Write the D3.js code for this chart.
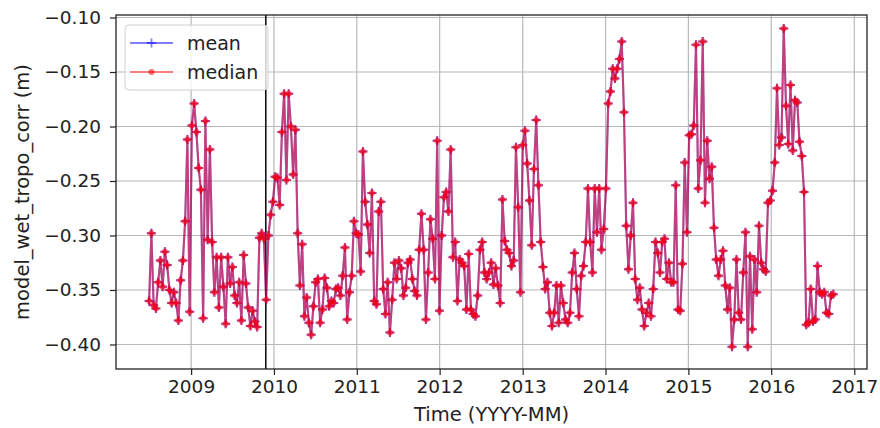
<!DOCTYPE html>
<html>
<head>
<meta charset="utf-8">
<script src="https://cdn.jsdelivr.net/npm/d3@7"></script>
<style>
  body { margin: 0; background: #fff; }
  svg text { font-family: "DejaVu Sans", sans-serif; fill: #222; }
</style>
</head>
<body>
<svg id="chart" width="880" height="428"></svg>
<script>
"use strict";

// one value per repeat cycle (~9.9 days), starting at the first cycle date
const firstCycle = new Date(2008, 5, 30);
const cycleDays = 9.9156;
const markerDate = new Date(2009, 10, 26);

// mean and median are on top of each other at this scale
const medianVals = [
  // 2008.5 - 2009.9
  -0.360, -0.298, -0.364, -0.367, -0.343, -0.323, -0.347, -0.315, -0.327, -0.350,
  -0.362, -0.352, -0.362, -0.378, -0.341, -0.323, -0.287, -0.212, -0.370, -0.199,
  -0.179, -0.205, -0.238, -0.258, -0.376, -0.195, -0.304, -0.221, -0.306, -0.352,
  -0.320, -0.366, -0.320, -0.347, -0.381, -0.320, -0.344, -0.329, -0.355, -0.362,
  -0.343, -0.378, -0.318, -0.344, -0.366, -0.383, -0.369, -0.379, -0.384, -0.302,
  -0.298, -0.303, -0.359,
  // 2009.9 - 2011.5
  -0.300, -0.281, -0.269, -0.246, -0.247, -0.272, -0.205, -0.170, -0.249, -0.170,
  -0.200, -0.244, -0.203, -0.298, -0.346, -0.308, -0.374, -0.357, -0.380, -0.391,
  -0.365, -0.343, -0.340, -0.380, -0.368, -0.339, -0.348, -0.365, -0.360, -0.362,
  -0.349, -0.348, -0.355, -0.337, -0.311, -0.377, -0.352, -0.337, -0.287, -0.298,
  -0.299, -0.333, -0.223, -0.269, -0.290, -0.316, -0.261, -0.360, -0.363, -0.278,
  -0.269, -0.349, -0.372, -0.343, -0.389, -0.359, -0.325, -0.340, -0.323,
  // 2011.5 - 2012.7
  -0.330, -0.355, -0.348, -0.325, -0.322, -0.340, -0.351, -0.355, -0.313, -0.280,
  -0.313, -0.377, -0.334, -0.285, -0.303, -0.340, -0.213, -0.369, -0.300, -0.265,
  -0.260, -0.278, -0.221, -0.320, -0.306, -0.360, -0.322, -0.325, -0.328, -0.368,
  -0.317, -0.368, -0.372, -0.374, -0.355, -0.313, -0.306, -0.334, -0.340, -0.334,
  -0.325, -0.345, -0.330,
  // 2012.7 - 2015.0
  -0.346, -0.362, -0.267, -0.305, -0.313, -0.316, -0.328, -0.323, -0.219, -0.274,
  -0.352, -0.217, -0.204, -0.234, -0.268, -0.309, -0.239, -0.194, -0.254, -0.306,
  -0.329, -0.349, -0.343, -0.371, -0.383, -0.371, -0.346, -0.380, -0.346, -0.362,
  -0.377, -0.380, -0.371, -0.334, -0.316, -0.349, -0.374, -0.337, -0.328, -0.306,
  -0.257, -0.306, -0.334, -0.257, -0.297, -0.257, -0.313, -0.294, -0.257, -0.179,
  -0.168, -0.147, -0.156, -0.147, -0.138, -0.122, -0.187, -0.291, -0.331, -0.300,
  -0.270, -0.340, -0.359, -0.348, -0.368, -0.383, -0.371, -0.362, -0.374, -0.349,
  -0.306, -0.316, -0.334, -0.306, -0.303, -0.340, -0.325, -0.343, -0.343,
  -0.254, -0.368, -0.369, -0.326, -0.233, -0.297, -0.208,
  // 2015.0 - 2016.7
  -0.207, -0.199, -0.125, -0.257, -0.231, -0.122, -0.270, -0.213, -0.248, -0.237,
  -0.293, -0.322, -0.337, -0.322, -0.314, -0.346, -0.368, -0.348, -0.402, -0.377,
  -0.322, -0.371, -0.377, -0.334, -0.297, -0.402, -0.319, -0.386, -0.322,
  -0.352, -0.291, -0.325, -0.331, -0.333, -0.270, -0.268, -0.259,
  -0.233, -0.165, -0.217, -0.210, -0.110, -0.181, -0.216, -0.162, -0.222,
  -0.176, -0.178, -0.214, -0.227, -0.260, -0.382, -0.380, -0.349, -0.379, -0.377,
  -0.328, -0.352, -0.354, -0.352, -0.371, -0.372, -0.355, -0.354
];

const yearTicks = d3.range(2009, 2018).map(yr => new Date(yr, 0, 1));
const yTicks = [-0.40, -0.35, -0.30, -0.25, -0.20, -0.15, -0.10];
const seriesNames = ["mean", "median"];

const svg = d3.select("#chart");
const plotLeft = 116, plotRight = 867, plotTop = 15, plotBottom = 369;

const x = d3.scaleTime()
  .domain([new Date(2008, 1, 5), new Date(2017, 1, 26)])
  .range([plotLeft, plotRight]);
const y = d3.scaleLinear()
  .domain([-0.4225, -0.0977])
  .range([plotBottom, plotTop]);

const points = medianVals.map((v, i) => ({
  date: new Date(firstCycle.getTime() + i * cycleDays * 864e5),
  value: v
}));

// grid
svg.append("g")
  .selectAll("line")
  .data(yearTicks)
  .join("line")
  .attr("x1", d => x(d)).attr("x2", d => x(d))
  .attr("y1", plotTop).attr("y2", plotBottom)
  .attr("stroke", "#b8b8b8").attr("stroke-width", 1.2);
svg.append("g")
  .selectAll("line")
  .data(yTicks)
  .join("line")
  .attr("x1", plotLeft).attr("x2", plotRight)
  .attr("y1", d => y(d)).attr("y2", d => y(d))
  .attr("stroke", "#b8b8b8").attr("stroke-width", 1.2);

// axes
const xAxis = svg.append("g")
  .attr("transform", `translate(0,${plotBottom})`)
  .call(d3.axisBottom(x).tickValues(yearTicks).tickFormat(d3.timeFormat("%Y")).tickSize(6).tickPadding(5));
const yAxis = svg.append("g")
  .attr("transform", `translate(${plotLeft},0)`)
  .call(d3.axisLeft(y).tickValues(yTicks).tickFormat(d3.format(".2f")).tickSize(6).tickPadding(9));
[xAxis, yAxis].forEach(g => {
  g.select(".domain").remove();
  g.selectAll("line").attr("stroke", "#222").attr("stroke-width", 1.2);
  g.selectAll("text").attr("font-size", 18.5).attr("fill", "#222");
});

// the event marker
svg.append("line")
  .attr("x1", x(markerDate)).attr("x2", x(markerDate))
  .attr("y1", plotTop).attr("y2", plotBottom)
  .attr("stroke", "#111").attr("stroke-width", 1.6);

const line = d3.line().x(d => x(d.date)).y(d => y(d.value));
const plus = "M-4.5,0H4.5M0,-4.5V4.5";

// mean: blue with + markers
svg.append("path")
  .datum(points)
  .attr("d", line)
  .attr("fill", "none")
  .attr("stroke", "blue").attr("stroke-opacity", 0.5).attr("stroke-width", 2.1);
svg.append("g")
  .selectAll("path")
  .data(points)
  .join("path")
  .attr("transform", d => `translate(${x(d.date)},${y(d.value)})`)
  .attr("d", plus)
  .attr("stroke", "blue").attr("stroke-opacity", 0.5).attr("stroke-width", 2);

// median: red with dot markers
svg.append("path")
  .datum(points)
  .attr("d", line)
  .attr("fill", "none")
  .attr("stroke", "red").attr("stroke-opacity", 0.5).attr("stroke-width", 2.1);
svg.append("g")
  .selectAll("path")
  .data(points)
  .join("path")
  .attr("transform", d => `translate(${x(d.date)},${y(d.value)})`)
  .attr("d", plus)
  .attr("stroke", "#e8003c").attr("stroke-opacity", 0.6).attr("stroke-width", 2);
svg.append("g")
  .selectAll("circle")
  .data(points)
  .join("circle")
  .attr("cx", d => x(d.date)).attr("cy", d => y(d.value))
  .attr("r", 3)
  .attr("fill", "red").attr("fill-opacity", 0.55);

// frame
svg.append("rect")
  .attr("x", plotLeft).attr("y", plotTop)
  .attr("width", plotRight - plotLeft).attr("height", plotBottom - plotTop)
  .attr("fill", "none").attr("stroke", "#222").attr("stroke-width", 1.3);

// legend
const legend = svg.append("g").attr("transform", "translate(125,25)");
legend.append("rect")
  .attr("width", 143).attr("height", 65).attr("rx", 4)
  .attr("fill", "white").attr("fill-opacity", 0.8)
  .attr("stroke", "#d0d0d0");
const legendColors = ["blue", "red"];
seriesNames.forEach((name, i) => {
  const row = legend.append("g").attr("transform", `translate(0,${18 + i * 29})`);
  row.append("line")
    .attr("x1", 5).attr("x2", 48)
    .attr("stroke", legendColors[i]).attr("stroke-opacity", 0.5).attr("stroke-width", 1.8);
  if (i === 0) {
    row.append("path").attr("transform", "translate(26.5,0)").attr("d", plus)
      .attr("stroke", "blue").attr("stroke-opacity", 0.5).attr("stroke-width", 1.8);
  } else {
    row.append("circle").attr("cx", 26.5).attr("r", 3)
      .attr("fill", "red").attr("fill-opacity", 0.55);
  }
  row.append("text")
    .attr("x", 62).attr("dy", "0.35em")
    .attr("font-size", 19)
    .text(name);
});

// axis labels
svg.append("text")
  .attr("x", (plotLeft + plotRight) / 2).attr("y", 421)
  .attr("text-anchor", "middle")
  .attr("font-size", 19.5)
  .text("Time (YYYY-MM)");
svg.append("text")
  .attr("transform", `translate(29,${(plotTop + plotBottom) / 2}) rotate(-90)`)
  .attr("text-anchor", "middle")
  .attr("font-size", 19.5)
  .text("model_wet_tropo_corr (m)");
</script>
</body>
</html>
